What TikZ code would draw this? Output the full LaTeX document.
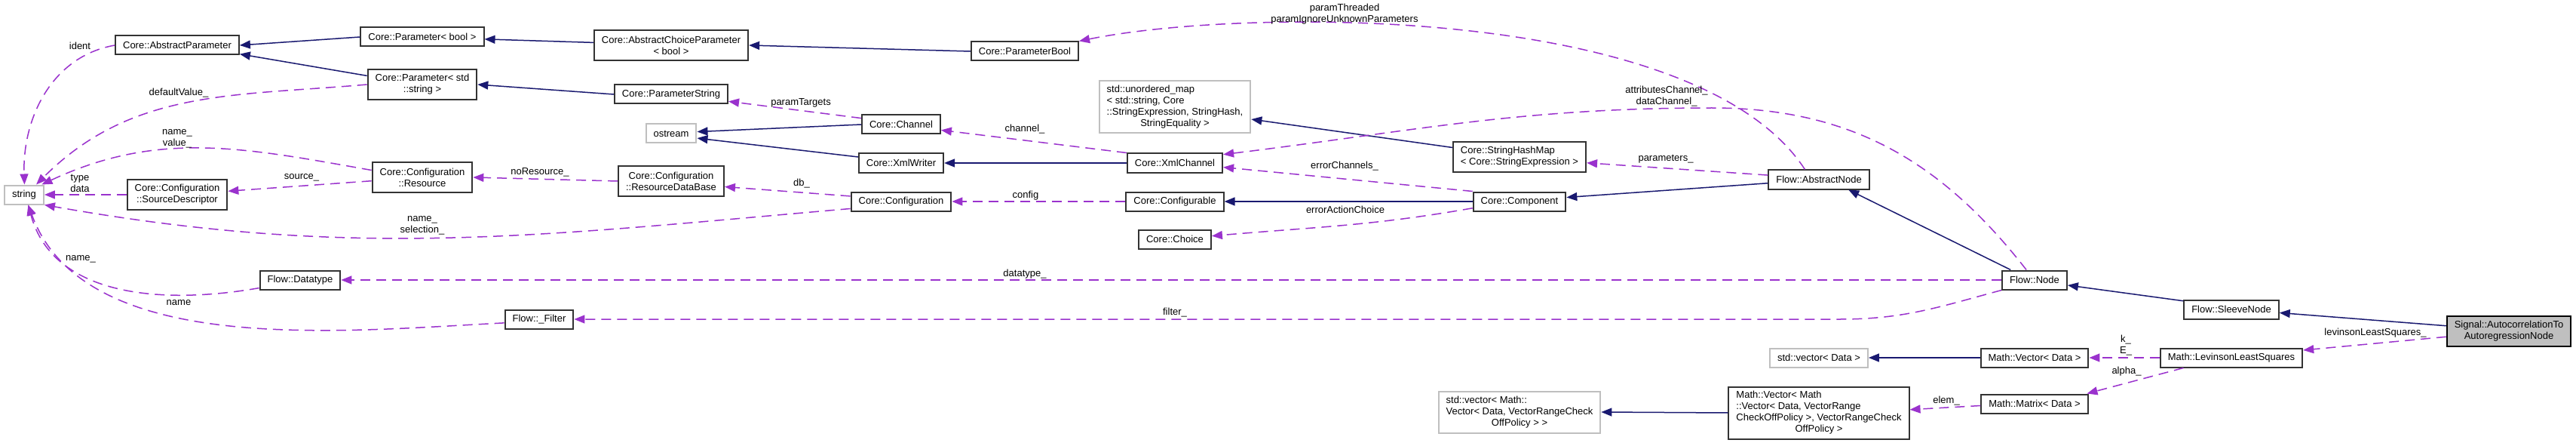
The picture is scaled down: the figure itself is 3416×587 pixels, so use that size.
\documentclass[tikz,border=0pt]{standalone}
\usepackage{fontspec}
\setmainfont{Liberation Sans}
\usetikzlibrary{arrows.meta}

\begin{document}
\begin{tikzpicture}[x=1bp, y=1bp,
    every node/.style={font=\fontsize{13bp}{15bp}\selectfont},
    cls/.style={draw=borderColour, fill=white, line width=2bp, inner xsep=10bp, inner ysep=0pt, minimum height=25bp},
    ext/.style={cls, draw=externColour},
    focus/.style={cls, draw=black, fill=externColour},
    lines2/.style={minimum height=40bp, align=center},
    lines3/.style={minimum height=55bp},
    lines4/.style={minimum height=69bp},
    lbl/.style={inner sep=0pt, align=center},
    inherit/.style={draw=inheritColour, line width=1.5bp, -{Triangle[length=14bp, width=11bp]}},
    uses/.style={draw=usageColour, line width=1.5bp, dash pattern=on 13bp off 8bp, -{Triangle[length=14bp, width=11bp]}}]

    % Define colours
    \definecolor{borderColour}{HTML}{333333}
    \definecolor{externColour}{HTML}{BFBFBF}
    \definecolor{inheritColour}{HTML}{191970}
    \definecolor{usageColour}{HTML}{9A32CD}

    % Fix the picture size
    \fill[white] (0,0) rectangle (3416,-587);
    \useasboundingbox (0,0) rectangle (3416,-587);

    % Draw classes
    \node[ext] (string) at (32,-258) {string};
    \node[cls] (absparam) at (235,-60) {Core::AbstractParameter};
    \node[cls] (parbool) at (560,-49) {Core::Parameter< bool >};
    \node[cls, lines2] (parstr) at (560,-112) {Core::Parameter< std\\::string >};
    \node[cls, lines2] (resource) at (560,-235) {Core::Configuration\\::Resource};
    \node[cls, lines2] (srcdesc) at (235,-258) {Core::Configuration\\::SourceDescriptor};
    \node[cls] (datatype) at (398,-371) {Flow::Datatype};
    \node[cls] (filter) at (715,-423) {Flow::\_Filter};
    \node[cls, lines2] (abschoice) at (890,-60) {Core::AbstractChoiceParameter\\< bool >};
    \node[cls] (parambool) at (1359,-68) {Core::ParameterBool};
    \node[cls] (paramstring) at (890,-125) {Core::ParameterString};
    \node[ext] (ostream) at (890,-177) {ostream};
    \node[cls] (channel) at (1195,-165) {Core::Channel};
    \node[cls] (xmlwriter) at (1195,-216) {Core::XmlWriter};
    \node[cls, lines2] (resdb) at (890,-240) {Core::Configuration\\::ResourceDataBase};
    \node[cls] (config) at (1195,-267) {Core::Configuration};
    \node[ext, lines4] (umap) at (1558,-142) {\begin{tabular}{@{}l@{}}std::unordered\_map\\< std::string, Core\\::StringExpression, StringHash,\\\multicolumn{1}{@{}c@{}}{StringEquality >}\end{tabular}};
    \node[cls] (xmlchannel) at (1558,-216) {Core::XmlChannel};
    \node[cls] (configurable) at (1558,-267) {Core::Configurable};
    \node[cls] (choice) at (1558,-317) {Core::Choice};
    \node[cls, lines2, align=left] (hashmap) at (2015,-208) {Core::StringHashMap\\< Core::StringExpression >};
    \node[cls] (component) at (2015,-267) {Core::Component};
    \node[ext, lines3] (vecvec) at (2015,-546) {\begin{tabular}{@{}l@{}}std::vector< Math::\\Vector< Data, VectorRangeCheck\\\multicolumn{1}{@{}c@{}}{OffPolicy > >}\end{tabular}};
    \node[cls] (absnode) at (2412,-238) {Flow::AbstractNode};
    \node[cls] (flownode) at (2698,-371) {Flow::Node};
    \node[ext] (stdvec) at (2412,-474) {std::vector< Data >};
    \node[cls, lines4] (mathvecvec) at (2412,-547) {\begin{tabular}{@{}l@{}}Math::Vector< Math\\::Vector< Data, VectorRange\\CheckOffPolicy >, VectorRangeCheck\\\multicolumn{1}{@{}c@{}}{OffPolicy >}\end{tabular}};
    \node[cls] (mathvec) at (2698,-474) {Math::Vector< Data >};
    \node[cls] (matrix) at (2698,-535) {Math::Matrix< Data >};
    \node[cls] (sleeve) at (2959,-410) {Flow::SleeveNode};
    \node[cls] (levinson) at (2959,-474) {Math::LevinsonLeastSquares};
    \node[focus, lines2] (autocorr) at (3327,-439) {Signal::AutocorrelationTo\\AutoregressionNode};

    % Bend points
    \coordinate (filterbend) at (2440,-423);
    \coordinate (chanpeak) at (2270,-143);

    % Draw inheritance edges
    \draw[inherit] (parbool.west) -- (absparam.east);
    \draw[inherit] (parstr.171) -- (absparam.-8);
    \draw[inherit] (abschoice.178) -- (parbool.-2);
    \draw[inherit] (parambool.west) -- (abschoice.east);
    \draw[inherit] (paramstring.west) -- (parstr.east);
    \draw[inherit] (channel.west) -- (ostream.4);
    \draw[inherit] (xmlwriter.172) -- (ostream.-10);
    \draw[inherit] (xmlchannel.west) -- (xmlwriter.east);
    \draw[inherit] (hashmap.172) -- (umap.-9);
    \draw[inherit] (component.west) -- (configurable.east);
    \draw[inherit] (absnode.184) -- (component.5);
    \draw[inherit] (flownode.157) -- (absnode.-19);
    \draw[inherit] (sleeve.170) -- (flownode.-9);
    \draw[inherit] (autocorr.175) -- (sleeve.-4);
    \draw[inherit] (mathvec.west) -- (stdvec.east);
    \draw[inherit] (mathvecvec.west) -- (vecvec.east);

    % Draw usage edges
    \draw[uses] (absparam.west) to[out=190, in=92] (string.88);
    \draw[uses] (parstr.west) to[out=185, in=45] (string.40);
    \draw[uses] (resource.172) to[out=170, in=25] (string.30);
    \draw[uses] (srcdesc.west) -- (string.east);
    \draw[uses] (resource.184) -- (srcdesc.4);
    \draw[uses] (resdb.west) -- (resource.east);
    \draw[uses] (config.174) -- (resdb.-6);
    \draw[uses] (configurable.west) -- (config.east);
    \draw[uses] (config.188) .. controls +(-416,-36) and +(412,-73) .. (string.south east);
    \draw[uses] (datatype.191) to[out=190, in=-75] (string.-68);
    \draw[uses] (filter.186) .. controls +(-216,-11) and +(74,-203) .. (string.-68);
    \draw[uses] (flownode.west) -- (datatype.east);
    \draw[uses] (flownode.south west) to[out=195, in=0] (filterbend) -- (filter.east);
    \draw[uses] (absnode.144) .. controls (2250,-5) and (1650,-10) .. (parambool.north east);
    \draw[uses] (flownode.129) to[out=128, in=0] (chanpeak) .. controls +(-255,0) and +(253,31) .. (xmlchannel.10);
    \draw[uses] (absnode.175) -- (hashmap.-5);
    \draw[uses] (xmlchannel.north west) -- (channel.-8);
    \draw[uses] (channel.171) -- (paramstring.-7);
    \draw[uses] (component.north west) -- (xmlchannel.-5);
    \draw[uses] (component.188) to[out=190, in=5] (choice.5);
    \draw[uses] (autocorr.185) -- (levinson.6);
    \draw[uses] (levinson.west) -- (mathvec.east);
    \draw[uses] (levinson.192) -- (matrix.11);
    \draw[uses] (matrix.182) -- (mathvecvec.2);

    % Label usage edges
    \node[lbl] (lIdent) at (106,-61) {ident};
    \node[lbl] (lDefault) at (237,-123) {defaultValue\_};
    \node[lbl] (lNameValue) at (235,-184) {name\_\\value\_};
    \node[lbl] (lTypeData) at (106,-243) {type\\data};
    \node[lbl] (lSource) at (400,-235) {source\_};
    \node[lbl] (lNoResource) at (716,-228) {noResource\_};
    \node[lbl] (lDb) at (1063,-243) {db\_};
    \node[lbl] (lConfig) at (1360,-259) {config};
    \node[lbl] (lTargets) at (1062,-136) {paramTargets};
    \node[lbl] (lChannel) at (1359,-171) {channel\_};
    \node[lbl] (lSelection) at (560,-299) {name\_\\selection\_};
    \node[lbl] (lDtName) at (107,-343) {name\_};
    \node[lbl] (lFiName) at (237,-401) {name};
    \node[lbl] (lDatatype) at (1359,-363) {datatype\_};
    \node[lbl] (lFilter) at (1558,-414) {filter\_};
    \node[lbl] (lThreaded) at (1783,-19) {paramThreaded\\paramIgnoreUnknownParameters};
    \node[lbl] (lErrChannels) at (1783,-220) {errorChannels\_};
    \node[lbl] (lErrChoice) at (1784,-278) {errorActionChoice};
    \node[lbl] (lDataChannel) at (2210,-128) {attributesChannel\_\\dataChannel\_};
    \node[lbl] (lParameters) at (2209,-211) {parameters\_};
    \node[lbl] (lKE) at (2819,-458) {k\_\\E\_};
    \node[lbl] (lAlpha) at (2820,-492) {alpha\_};
    \node[lbl] (lElem) at (2581,-531) {elem\_};
    \node[lbl] (lLevinson) at (3150,-441) {levinsonLeastSquares\_};

\end{tikzpicture}
\end{document}
